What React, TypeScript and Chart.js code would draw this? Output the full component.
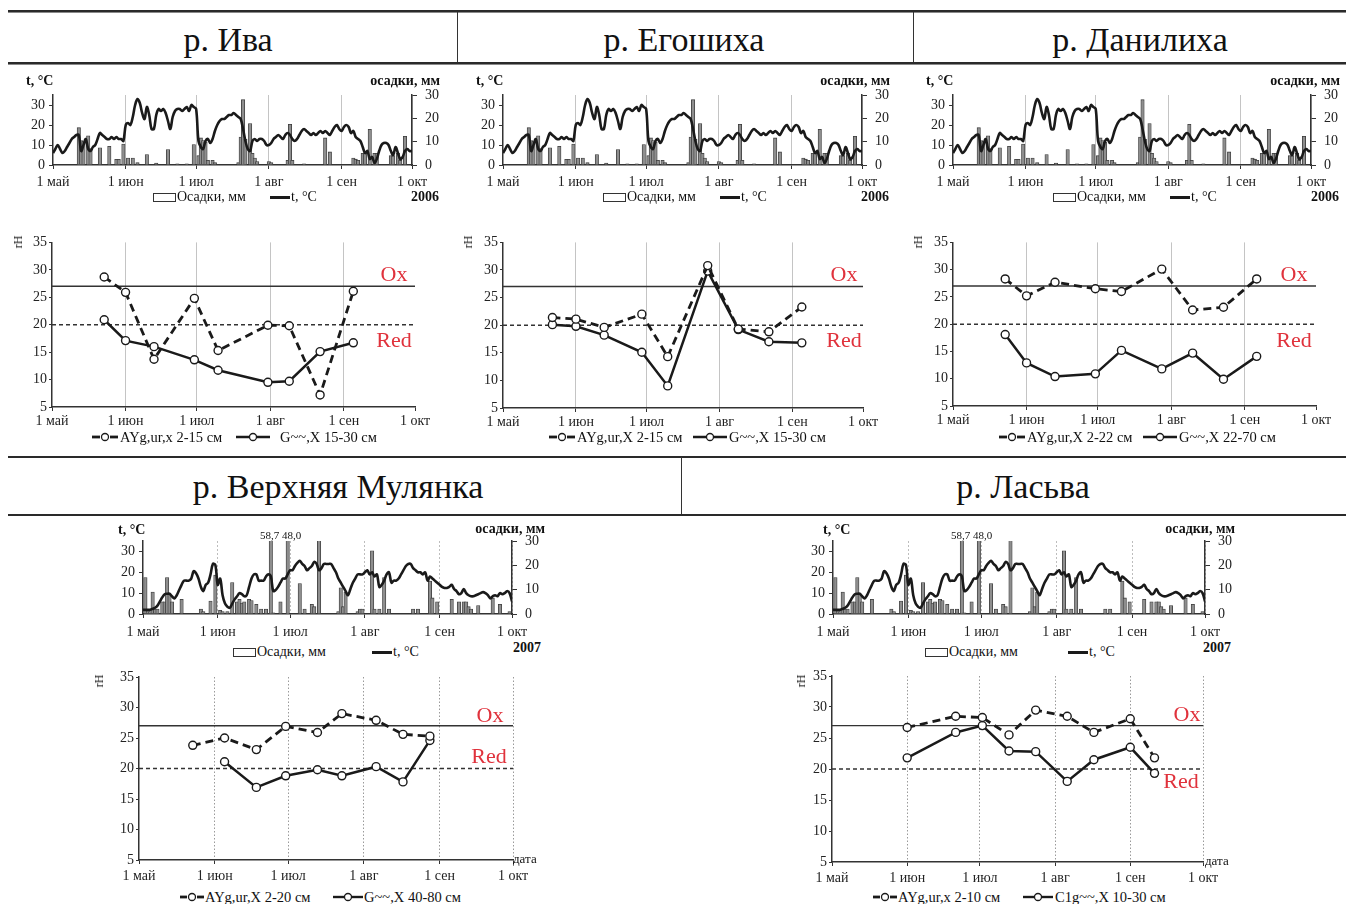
import React, { useEffect, useRef } from 'react';
import { Chart, registerables } from 'chart.js';

Chart.register(...registerables);

const SERIF = "'Liberation Serif', 'Times New Roman', serif";
Chart.defaults.font.family = SERIF;
Chart.defaults.color = '#222';

// ---------- axis ticks ----------
const MONTH_TICKS = [0, 31, 61, 92, 123, 153];
const MONTH_LABELS = ['1 май', '1 июн', '1 июл', '1 авг', '1 сен', '1 окт'];
const TEMP_TICKS = [0, 10, 20, 30];
const PRECIP_TICKS = [0, 10, 20, 30];
const RH_TICKS = [5, 10, 15, 20, 25, 30, 35];
const OX_LEVEL = 27;
const RED_LEVEL = 20;

// ---------- 2006 daily temperature (day 0 = 1 May) ----------
const temp2006 = [
  6, 8, 10, 8, 6, 7, 9, 11, 13, 14, 15, 15, 7, 10, 13, 8, 7, 9, 10, 13, 16, 15, 14, 13, 13, 14, 13, 14, 13, 13, 12,
  20, 21, 20, 24, 30, 33, 31, 26, 23, 29, 25, 18, 18, 25, 28, 27, 28, 26, 22, 18, 24, 27, 28, 28, 27, 28, 29, 27, 30, 29,
  28, 12, 9, 8, 12, 13, 11, 13, 17, 20, 22, 23, 23, 24, 25, 25, 26, 25, 24, 23, 18, 12, 8, 7, 12, 13, 12, 13, 13, 12, 10,
  10, 11, 13, 14, 15, 14, 13, 15, 16, 15, 13, 12, 13, 15, 17, 18, 17, 16, 15, 16, 15, 16, 17, 16, 17, 16, 15, 17, 19, 20, 18,
  17, 19, 20, 19, 16, 17, 14, 13, 12, 9, 6, 7, 3, 4, 1, 3, 7, 10, 11, 11, 10, 7, 5, 9, 6, 3, 4, 7, 8, 7,
  7,
];
const precip2006Days = [11, 12, 13, 15, 16, 20, 24, 27, 28, 30, 32, 34, 36, 40, 44, 49, 53, 57, 60, 62, 63, 64, 65, 66, 68, 69, 79, 80, 81, 82, 84, 85, 86, 87, 92, 93, 100, 101, 102, 107, 116, 118, 128, 129, 130, 132, 133, 135, 137, 138, 144, 145, 147, 148, 150];
const precip2006Values = [16, 10.5, 10, 12.5, 7, 7.4, 8, 2.4, 2.4, 9, 3, 3, 1, 4.5, 0.8, 6.6, 0.5, 0.5, 8.8, 4, 11.6, 10.5, 9.8, 2, 2, 1, 1, 12, 28, 11, 17.8, 5, 3, 1.5, 1.5, 1, 2, 17.4, 2, 0.5, 11.6, 5.6, 3, 2.5, 2, 5, 5, 15.3, 5, 5, 4, 4, 5, 2, 12.3];

// ---------- 2007 daily temperature ----------
const temp2007 = [
  2, 2, 2, 2, 2.5, 3, 4, 6, 8, 9.5, 9.7, 9.7, 8.5, 7.5, 9, 11.5, 14, 16, 16, 16, 17, 20.5, 19.5, 17, 13, 11, 14, 15, 19, 24, 23.5,
  14, 17, 9, 5, 3.5, 3, 5, 7, 8.5, 10, 9.5, 8.5, 9, 13, 17, 19, 19, 16, 16, 16, 18, 19, 18, 11, 11.5, 13, 15, 17, 17, 19,
  21, 21, 23, 24.5, 25.5, 24, 23, 21, 22, 23, 25, 24, 21, 22, 24, 24, 24, 24, 22, 20, 17, 15, 13, 11, 9, 12, 15, 17, 19, 19, 19,
  20, 21, 19, 20, 18, 19, 13, 14, 16, 19, 20, 15, 16, 16, 17, 19, 21, 23, 24, 24, 22, 21, 20, 20, 19, 20, 16, 18, 17, 16, 15,
  14, 13, 12.5, 12.5, 13, 14, 12, 11, 9.5, 10, 12, 10, 9, 8.5, 8.5, 9, 9.5, 10, 10.5, 10, 9, 7.5, 8.5, 9, 8.5, 10, 9.5, 10, 11, 10,
  6,
];
const precip2007Days = [1, 2, 3, 4, 5, 6, 8, 9, 10, 11, 12, 16, 24, 25, 28, 30, 32, 33, 35, 37, 39, 40, 41, 42, 44, 45, 47, 49, 51, 53, 54, 57, 60, 65, 67, 70, 71, 73, 81, 82, 83, 84, 89, 90, 91, 95, 96, 98, 100, 102, 112, 114, 119, 120, 122, 128, 131, 133, 134, 135, 136, 139, 145, 148, 152];
const precip2007Values = [15, 1, 1, 9, 2, 2, 5, 5, 15, 8, 5, 6, 2, 1, 5.3, 16, 1.5, 1, 1, 12.9, 5, 6, 4.5, 5, 6, 5.5, 4, 2, 2, 58.7, 0.5, 5, 48.0, 12.5, 2, 4, 3, 34, 1, 10.8, 3, 9, 1, 2, 2, 26, 2, 2, 15, 2, 2, 2, 13.5, 6.6, 5, 6, 5, 5, 5, 3, 2, 3.5, 6.6, 4, 1];

// ---------- rH measurements ----------
const ivaDays = [22, 31, 43, 60, 70, 91, 100, 113, 127];
const ivaUpper = [28.7, 25.9, 13.7, 24.8, 15.3, 19.9, 19.8, 7.2, 26.1];
const ivaLower = [20.9, 17.1, 16.0, 13.6, 11.7, 9.5, 9.7, 15.1, 16.7];

const egoDays = [21, 31, 43, 59, 70, 87, 100, 113, 127];
const egoUpper = [21.4, 21.1, 19.6, 22.0, 14.3, 30.8, 19.3, 18.8, 23.3];
const egoLower = [20.1, 19.8, 18.2, 15.1, 9.0, 29.8, 19.2, 17.0, 16.8];

const danDays = [22, 31, 43, 60, 71, 88, 101, 114, 128];
const danUpper = [28.3, 25.2, 27.7, 26.5, 26.0, 30.1, 22.6, 23.1, 28.3];
const danLower = [18.1, 12.9, 10.4, 10.9, 15.2, 11.8, 14.7, 9.9, 14.1];

const mulUpperDays = [22, 35, 48, 60, 73, 83, 97, 108, 119];
const mulUpper = [23.8, 25.0, 23.1, 26.9, 25.9, 29.0, 27.9, 25.6, 25.3];
const mulLowerDays = [35, 48, 60, 73, 83, 97, 108, 119];
const mulLower = [21.1, 16.9, 18.8, 19.8, 18.8, 20.3, 17.8, 24.6];

const lasDays = [31, 51, 62, 73, 84, 97, 108, 123, 133];
const lasUpper = [26.7, 28.5, 28.3, 25.5, 29.5, 28.5, 25.9, 28.1, 21.8];
const lasLower = [21.8, 25.9, 27.0, 22.9, 22.8, 18.0, 21.5, 23.5, 19.3];

// ---------- chart builders ----------
type Area = { w: number; h: number; l: number; r: number; t: number; b: number };
const W_L = 32;
const W_R = 36;
const INK = '#1a1a1a';
const TICK_FONT = 14;

function monthAxis(area: Area, gridColor: string, dash: number[], hideLast: boolean, pad: number) {
  return {
    type: 'linear',
    min: 0,
    max: 153,
    offset: false,
    afterBuildTicks: (s: any) => {
      s.ticks = MONTH_TICKS.map((v) => ({ value: v }));
    },
    afterFit: (s: any) => {
      s.height = area.h - area.b;
    },
    ticks: {
      autoSkip: false,
      maxRotation: 0,
      minRotation: 0,
      padding: pad,
      font: { size: TICK_FONT },
      color: '#222',
      callback: (v: any) => {
        const i = MONTH_TICKS.indexOf(Number(v));
        return i >= 0 ? MONTH_LABELS[i] : '';
      },
    },
    grid: {
      color: (c: any) => {
        const v = c.tick ? c.tick.value : -1;
        return v === 0 || (hideLast && v === 153) ? 'rgba(0,0,0,0)' : gridColor;
      },
      lineWidth: 1,
      tickColor: '#333',
      tickLength: 4,
      tickWidth: 1,
      offset: false,
    },
    border: { color: '#333', width: 1.5, dash },
  };
}

function tempConfig(area: Area, temps: number[], pDays: number[], pVals: number[], gridColor: string, dash: number[], pad: number) {
  return {
    type: 'line',
    data: {
      datasets: [
        {
          type: 'line',
          data: temps.map((t, i) => ({ x: i, y: t })),
          yAxisID: 'y',
          borderColor: INK,
          borderWidth: 2.6,
          pointRadius: 0,
          tension: 0.35,
          order: 0,
        },
        {
          type: 'bar',
          data: pDays.map((d, i) => ({ x: d, y: pVals[i] })),
          yAxisID: 'y1',
          backgroundColor: '#8e8e8e',
          borderColor: '#3a3a3a',
          borderWidth: 0.8,
          barThickness: 3.4,
          clip: 0,
          order: 1,
        },
      ],
    },
    options: {
      responsive: false,
      animation: false,
      events: [],
      layout: { padding: { left: area.l - W_L, right: area.w - area.r - W_R, top: area.t, bottom: 0 } },
      plugins: { legend: { display: false }, tooltip: { enabled: false } },
      scales: {
        x: monthAxis(area, gridColor, dash, false, pad),
        y: {
          type: 'linear',
          position: 'left',
          min: 0,
          max: 35,
          afterBuildTicks: (s: any) => {
            s.ticks = TEMP_TICKS.map((v) => ({ value: v }));
          },
          afterFit: (s: any) => {
            s.width = W_L;
          },
          ticks: { padding: 4, font: { size: TICK_FONT }, color: '#222' },
          grid: { drawOnChartArea: false, tickLength: 4, tickColor: '#333' },
          border: { color: '#333', width: 1.5 },
        },
        y1: {
          type: 'linear',
          position: 'right',
          min: 0,
          max: 30,
          afterBuildTicks: (s: any) => {
            s.ticks = PRECIP_TICKS.map((v) => ({ value: v }));
          },
          afterFit: (s: any) => {
            s.width = W_R;
          },
          ticks: { padding: 8, font: { size: TICK_FONT }, color: '#222' },
          grid: { drawOnChartArea: false, tickLength: 5, tickColor: '#333' },
          border: { color: '#333', width: 1.5 },
        },
      },
    },
  };
}

function rhConfig(
  area: Area,
  upDays: number[],
  up: number[],
  lowDays: number[],
  low: number[],
  gridColor: string,
  dash: number[],
  hideLast: boolean,
  pad: number
) {
  const marker = {
    pointRadius: 4,
    pointBackgroundColor: '#fff',
    pointBorderColor: INK,
    pointBorderWidth: 1.4,
  };
  return {
    type: 'line',
    data: {
      datasets: [
        {
          data: upDays.map((d, i) => ({ x: d, y: up[i] })),
          borderColor: INK,
          borderWidth: 2.8,
          borderDash: [8, 5],
          tension: 0,
          order: 1,
          ...marker,
        },
        {
          data: lowDays.map((d, i) => ({ x: d, y: low[i] })),
          borderColor: INK,
          borderWidth: 2.5,
          tension: 0,
          order: 2,
          ...marker,
        },
        {
          data: [
            { x: 0, y: OX_LEVEL },
            { x: 153, y: OX_LEVEL },
          ],
          borderColor: '#333',
          borderWidth: 1.4,
          pointRadius: 0,
          order: 3,
        },
        {
          data: [
            { x: 0, y: RED_LEVEL },
            { x: 153, y: RED_LEVEL },
          ],
          borderColor: '#333',
          borderWidth: 1.4,
          borderDash: [4, 3],
          pointRadius: 0,
          order: 4,
        },
      ],
    },
    options: {
      responsive: false,
      animation: false,
      events: [],
      layout: { padding: { left: area.l - W_L, right: area.w - area.r, top: area.t, bottom: 0 } },
      plugins: { legend: { display: false }, tooltip: { enabled: false } },
      scales: {
        x: monthAxis(area, gridColor, dash, hideLast, pad),
        y: {
          type: 'linear',
          position: 'left',
          min: 5,
          max: 35,
          afterBuildTicks: (s: any) => {
            s.ticks = RH_TICKS.map((v) => ({ value: v }));
          },
          afterFit: (s: any) => {
            s.width = W_L;
          },
          ticks: { padding: 2, font: { size: TICK_FONT }, color: '#222' },
          grid: { drawOnChartArea: false, tickLength: 3, tickColor: '#333' },
          border: { color: '#333', width: 1.5 },
        },
      },
    },
  };
}

// ---------- React pieces ----------
function ChartCanvas(props: { left: number; top: number; area: Area; make: () => any }) {
  const ref = useRef<HTMLCanvasElement | null>(null);
  useEffect(() => {
    if (!ref.current) return;
    const chart = new Chart(ref.current, props.make() as any);
    return () => chart.destroy();
  }, []);
  const { w, h } = props.area;
  return (
    <canvas
      ref={ref}
      width={w}
      height={h}
      style={{ position: 'absolute', left: props.left, top: props.top, width: w, height: h }}
    />
  );
}

function Txt(props: {
  x: number;
  y: number;
  text: string;
  size?: number;
  bold?: boolean;
  align?: 'left' | 'center' | 'right';
  color?: string;
}) {
  const { x, y, text, size = 13, bold = false, align = 'left', color = '#111' } = props;
  const tx = align === 'left' ? '0' : align === 'center' ? '-50%' : '-100%';
  return (
    <div
      style={{
        position: 'absolute',
        left: x,
        top: y,
        transform: `translate(${tx}, -50%)`,
        fontFamily: SERIF,
        fontSize: size,
        fontWeight: bold ? 700 : 400,
        color,
        whiteSpace: 'nowrap',
        lineHeight: 1,
      }}
    >
      {text}
    </div>
  );
}

function Sample(props: { x1: number; x2: number; y: number; dashed: boolean }) {
  const { x1, x2, y, dashed } = props;
  const w = x2 - x1;
  const c = w / 2;
  return (
    <svg style={{ position: 'absolute', left: x1, top: y - 6 }} width={w} height={12}>
      {dashed ? (
        <g stroke={INK} strokeWidth={2.8}>
          <line x1={0} y1={6} x2={c - 5} y2={6} />
          <line x1={c + 5} y1={6} x2={w} y2={6} />
        </g>
      ) : (
        <line x1={0} y1={6} x2={w} y2={6} stroke={INK} strokeWidth={2.4} />
      )}
      <circle cx={c} cy={6} r={3.5} fill="#fff" stroke={INK} strokeWidth={1.3} />
    </svg>
  );
}

function PrecipLegend(props: { box: number; boxY: number; lineX1: number; lineX2: number; y: number }) {
  const { box, boxY, lineX1, lineX2, y } = props;
  return (
    <>
      <div
        style={{
          position: 'absolute',
          left: box,
          top: boxY,
          width: 21,
          height: 7,
          border: '1px solid #333',
          background: '#fff',
        }}
      />
      <Txt x={box + 24} y={y} text="Осадки, мм" size={14} />
      <div style={{ position: 'absolute', left: lineX1, top: y - 1, width: lineX2 - lineX1, height: 2.6, background: INK }} />
      <Txt x={lineX2 + 1} y={y} text="t, °C" size={14} />
    </>
  );
}

function RhLabel(props: { x: number; y: number }) {
  return (
    <div
      style={{
        position: 'absolute',
        left: props.x,
        top: props.y,
        transform: 'translate(-50%, -50%) rotate(-90deg)',
        fontFamily: SERIF,
        fontSize: 12,
        color: '#111',
        lineHeight: 1,
      }}
    >
      rH
    </div>
  );
}

function HLine(props: { y: number; t: number; x1?: number; x2?: number; c?: string }) {
  const { y, t, x1 = 8, x2 = 1346, c = '#333' } = props;
  return <div style={{ position: 'absolute', left: x1, top: y, width: x2 - x1, height: t, background: c }} />;
}
function VLine(props: { x: number; y1: number; y2: number; t?: number; c?: string }) {
  const { x, y1, y2, t = 1.5, c = '#333' } = props;
  return <div style={{ position: 'absolute', left: x, top: y1, width: t, height: y2 - y1, background: c }} />;
}

const RED_TEXT = '#e0323c';
const LEG_FONT = 14.5;

function TopPanel(props: {
  ox: number;
  tArea: Area;
  rArea: Area;
  days: number[];
  up: number[];
  low: number[];
  upLabel: string;
  lowLabel: string;
  leg: [number, number, number, number];
}) {
  const { ox, tArea, rArea, days, up, low, upLabel, lowLabel, leg } = props;
  return (
    <>
      <ChartCanvas
        left={ox}
        top={75}
        area={tArea}
        make={() => tempConfig(tArea, temp2006, precip2006Days, precip2006Values, '#c4c4c4', [], 5)}
      />
      <ChartCanvas
        left={ox}
        top={232}
        area={rArea}
        make={() => rhConfig(rArea, days, up, days, low, '#c4c4c4', [], true, 2)}
      />
      <Txt x={ox + 26} y={81} text="t, °C" bold size={14} />
      <Txt x={ox + 440} y={81} text="осадки, мм" bold size={14} align="right" />
      <PrecipLegend box={ox + 153} boxY={193} lineX1={ox + 270} lineX2={ox + 290} y={197} />
      <Txt x={ox + 439} y={197} text="2006" bold size={14} align="right" />
      <RhLabel x={ox + 18} y={242} />
      <Txt x={ox + 394} y={274} text="Ox" size={22} color={RED_TEXT} align="center" />
      <Txt x={ox + 394} y={340} text="Red" size={22} color={RED_TEXT} align="center" />
      <Sample x1={ox + leg[0]} x2={ox + leg[0] + 26} y={437} dashed />
      <Txt x={ox + leg[1]} y={437} text={upLabel} size={LEG_FONT} />
      <Sample x1={ox + leg[2]} x2={ox + leg[2] + 34} y={437} dashed={false} />
      <Txt x={ox + leg[3]} y={437} text={lowLabel} size={LEG_FONT} />
    </>
  );
}

function BottomPanel(props: {
  tLeft: number;
  tArea: Area;
  rLeft: number;
  rArea: Area;
  upDays: number[];
  up: number[];
  lowDays: number[];
  low: number[];
  upLabel: string;
  lowLabel: string;
  tx: number;
  osR: number;
  bigX: number;
  legBox: number;
  legLine: number;
  yearR: number;
  rhX: number;
  ox: [number, number];
  red: [number, number];
  dataX: number;
  dataY: number;
  leg: [number, number, number, number];
}) {
  const p = props;
  return (
    <>
      <ChartCanvas
        left={p.tLeft}
        top={520}
        area={p.tArea}
        make={() => tempConfig(p.tArea, temp2007, precip2007Days, precip2007Values, '#bdbdbd', [2, 2], 6)}
      />
      <ChartCanvas
        left={p.rLeft}
        top={665}
        area={p.rArea}
        make={() => rhConfig(p.rArea, p.upDays, p.up, p.lowDays, p.low, '#9a9a9a', [1.5, 2], false, 4)}
      />
      <Txt x={p.tx} y={530} text="t, °C" bold size={14} />
      <Txt x={p.osR} y={529} text="осадки, мм" bold size={14} align="right" />
      <Txt x={p.bigX} y={535} text="58,7 48,0" size={11} />
      <PrecipLegend box={p.legBox} boxY={648} lineX1={p.legLine} lineX2={p.legLine + 20} y={652} />
      <Txt x={p.yearR} y={648} text="2007" bold size={14} align="right" />
      <RhLabel x={p.rhX} y={681} />
      <Txt x={p.ox[0]} y={p.ox[1]} text="Ox" size={22} color={RED_TEXT} align="center" />
      <Txt x={p.red[0]} y={p.red[1]} text="Red" size={22} color={RED_TEXT} align="center" />
      <Txt x={p.dataX} y={p.dataY} text="дата" size={13} />
      <Sample x1={p.leg[0]} x2={p.leg[0] + 24} y={897} dashed />
      <Txt x={p.leg[1]} y={897} text={p.upLabel} size={LEG_FONT} />
      <Sample x1={p.leg[2]} x2={p.leg[2] + 30} y={897} dashed={false} />
      <Txt x={p.leg[3]} y={897} text={p.lowLabel} size={LEG_FONT} />
    </>
  );
}

export default function App() {
  const tTop: Area = { w: 457, h: 115, l: 53, r: 412, t: 20, b: 90 };
  const tTop3: Area = { w: 454, h: 115, l: 53, r: 411, t: 20, b: 90 };
  const rTop1: Area = { w: 457, h: 200, l: 52, r: 415, t: 10, b: 175 };
  const rTop2: Area = { w: 457, h: 200, l: 53, r: 413, t: 10, b: 176 };
  const rTop3: Area = { w: 454, h: 200, l: 53, r: 416, t: 9, b: 174 };
  const tMul: Area = { w: 470, h: 120, l: 53, r: 422, t: 21, b: 94 };
  const rMul: Area = { w: 470, h: 218, l: 59, r: 433, t: 12, b: 195 };
  const tLas: Area = { w: 474, h: 120, l: 53, r: 425, t: 21, b: 94 };
  const rLas: Area = { w: 474, h: 218, l: 60, r: 431, t: 11, b: 197 };

  const TITLE = 34;

  return (
    <div
      style={{
        position: 'fixed',
        left: 0,
        top: 0,
        width: 1354,
        height: 904,
        background: '#fff',
        overflow: 'hidden',
        fontFamily: SERIF,
      }}
    >
      {/* table header lines */}
      <HLine y={10} t={2} c="#2a2a2a" />
      <HLine y={12} t={1} c="#8a8a8a" />
      <VLine x={456.5} y1={12} y2={63} />
      <VLine x={912.5} y1={12} y2={63} />
      <HLine y={62} t={2} c="#2a2a2a" />
      <HLine y={64} t={1} c="#8a8a8a" />
      <HLine y={456} t={2} c="#2a2a2a" />
      <VLine x={680.5} y1={457} y2={515} />
      <HLine y={514} t={2} c="#2a2a2a" />

      <Txt x={228} y={40} text="р. Ива" size={TITLE} align="center" />
      <Txt x={684} y={40} text="р. Егошиха" size={TITLE} align="center" />
      <Txt x={1140} y={40} text="р. Данилиха" size={TITLE} align="center" />
      <Txt x={338} y={487} text="р. Верхняя Мулянка" size={TITLE} align="center" />
      <Txt x={1023} y={487} text="р. Ласьва" size={TITLE} align="center" />

      <TopPanel
        ox={0}
        tArea={tTop}
        rArea={rTop1}
        days={ivaDays}
        up={ivaUpper}
        low={ivaLower}
        upLabel="AYg,ur,x 2-15 см"
        lowLabel="G~~,X 15-30 см"
        leg={[92, 120, 236, 280]}
      />
      <TopPanel
        ox={450}
        tArea={tTop}
        rArea={rTop2}
        days={egoDays}
        up={egoUpper}
        low={egoLower}
        upLabel="AYg,ur,X 2-15 см"
        lowLabel="G~~,X 15-30 см"
        leg={[99, 127, 243, 279]}
      />
      <TopPanel
        ox={900}
        tArea={tTop3}
        rArea={rTop3}
        days={danDays}
        up={danUpper}
        low={danLower}
        upLabel="AYg,ur,X 2-22 см"
        lowLabel="G~~,X 22-70 см"
        leg={[99, 127, 243, 279]}
      />

      <BottomPanel
        tLeft={90}
        tArea={tMul}
        rLeft={80}
        rArea={rMul}
        upDays={mulUpperDays}
        up={mulUpper}
        lowDays={mulLowerDays}
        low={mulLower}
        upLabel="AYg,ur,X 2-20 см"
        lowLabel="G~~,X 40-80 см"
        tx={118}
        osR={545}
        bigX={260}
        legBox={233}
        legLine={372}
        yearR={541}
        rhX={99}
        ox={[490, 715]}
        red={[489, 756]}
        dataX={513}
        dataY={858}
        leg={[180, 205, 333, 364]}
      />
      <BottomPanel
        tLeft={780}
        tArea={tLas}
        rLeft={772}
        rArea={rLas}
        upDays={lasDays}
        up={lasUpper}
        lowDays={lasDays}
        low={lasLower}
        upLabel="AYg,ur,x 2-10 см"
        lowLabel="C1g~~,X 10-30 см"
        tx={823}
        osR={1235}
        bigX={951}
        legBox={925}
        legLine={1068}
        yearR={1231}
        rhX={801}
        ox={[1187, 714]}
        red={[1181, 781]}
        dataX={1205}
        dataY={860}
        leg={[873, 898, 1023, 1055]}
      />
    </div>
  );
}
